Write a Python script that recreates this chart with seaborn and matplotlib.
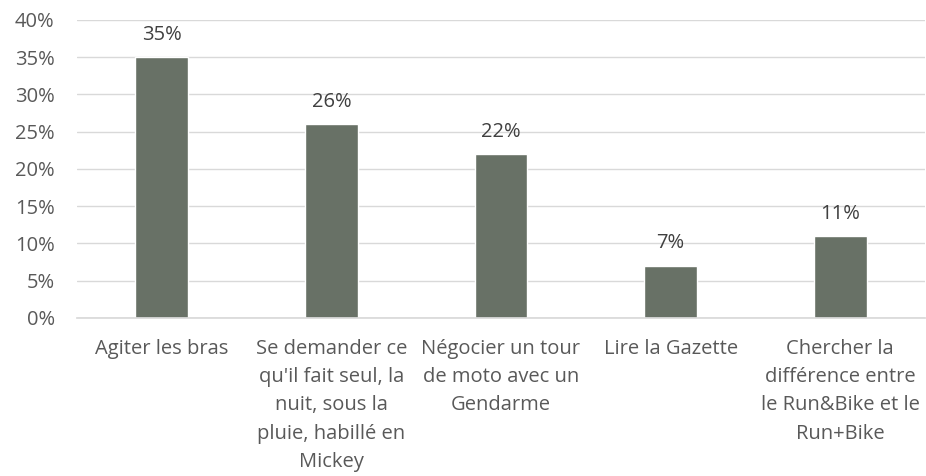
import matplotlib
matplotlib.use("Agg")
import matplotlib.pyplot as plt
import seaborn as sns
import pandas as pd
from matplotlib.ticker import PercentFormatter

categories = [
    "Agiter les bras",
    "Se demander ce\nqu'il fait seul, la\nnuit, sous la\npluie, habillé en\nMickey",
    "Négocier un tour\nde moto avec un\nGendarme",
    "Lire la Gazette",
    "Chercher la\ndifférence entre\nle Run&Bike et le\nRun+Bike",
]
values = [0.35, 0.26, 0.22, 0.07, 0.11]
value_labels = ["35%", "26%", "22%", "7%", "11%"]
y_ticks = [0, 0.05, 0.10, 0.15, 0.20, 0.25, 0.30, 0.35, 0.40]

sns.set_theme(style="white")
plt.rcParams["font.family"] = ["Open Sans", "DejaVu Sans"]

df = pd.DataFrame({"cat": categories, "val": values})

fig = plt.figure(figsize=(9.26, 4.76), dpi=100)
ax = fig.add_axes([0.083, 0.332, 0.916, 0.626])
sns.barplot(data=df, x="cat", y="val", color="#687166", saturation=1, width=0.31, ax=ax)

ax.set_ylim(0, 0.40)
ax.set_yticks(y_ticks)
ax.yaxis.set_major_formatter(PercentFormatter(1.0, decimals=0))
ax.grid(axis="y", color="#d9d9d9", linewidth=1.0)
ax.set_axisbelow(True)
for s in ["top", "right", "left"]:
    ax.spines[s].set_visible(False)
ax.spines["bottom"].set_color("#d9d9d9")
ax.set_xlabel("")
ax.set_ylabel("")
ax.tick_params(axis="y", length=0, pad=16, labelsize=14.5, labelcolor="#595959")
ax.tick_params(axis="x", length=0, pad=15, labelsize=14.5, labelcolor="#595959")
for lbl in ax.get_xticklabels():
    lbl.set_linespacing(1.55)
    lbl.set_horizontalalignment("center")

for c in ax.containers:
    ax.bar_label(c, labels=value_labels, padding=9, fontsize=14.5, color="#404040")

fig.savefig("out.png", dpi=100)
